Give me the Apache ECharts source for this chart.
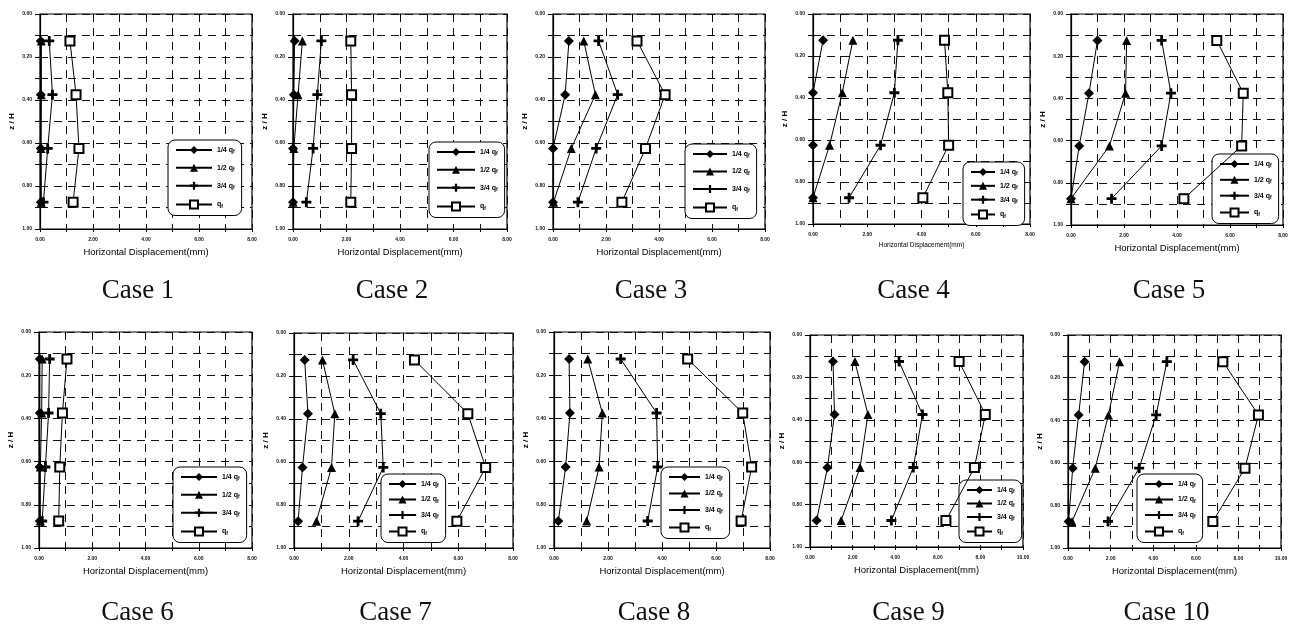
<!DOCTYPE html>
<html><head><meta charset="utf-8">
<script src="https://cdn.jsdelivr.net/npm/echarts@6/dist/echarts.min.js"></script>
<style>html,body{margin:0;padding:0;background:#fff}#c{width:1293px;height:626px}</style>
</head><body><div id="c"></div>
<script>
// ---------------- DATA ----------------
const caseNames = ['Case 1','Case 2','Case 3','Case 4','Case 5','Case 6','Case 7','Case 8','Case 9','Case 10'];
const seriesNames = ['1/4 qf','1/2 qf','3/4 qf','qf'];
const zLevels = [0.125, 0.375, 0.625, 0.875];          // z / H of the four gauges
const xMaxByCase = [8,8,8,8,8,8,8,8,10,10];
const yTickLabels = ['0.00','0.20','0.40','0.60','0.80','1.00'];
// horizontal displacement (mm) per case, top-to-bottom gauge
const q14Values = [
  [0.03,0.03,0.03,0.03],[0.06,0.03,0.00,0.00],[0.60,0.46,0.00,0.00],[0.37,0.00,0.00,0.00],[1.00,0.68,0.31,0.00],
  [0.03,0.03,0.02,0.03],[0.39,0.51,0.31,0.15],[0.56,0.59,0.43,0.16],[1.08,1.15,0.82,0.31],[0.78,0.50,0.22,0.03]
];
const q12Values = [
  [0.05,0.05,0.04,0.05],[0.35,0.19,0.03,0.00],[1.16,1.60,0.69,0.02],[1.47,1.08,0.61,0.00],[2.10,2.06,1.45,0.00],
  [0.12,0.10,0.05,0.05],[1.04,1.49,1.37,0.82],[1.25,1.79,1.67,1.21],[2.11,2.72,2.35,1.46],[2.42,1.90,1.28,0.19]
];
const q34Values = [
  [0.35,0.47,0.29,0.13],[1.06,0.91,0.75,0.50],[1.72,2.44,1.63,0.94],[3.13,3.00,2.49,1.33],[3.42,3.77,3.42,1.53],
  [0.40,0.36,0.24,0.12],[2.16,3.17,3.26,2.34],[2.47,3.80,3.84,3.47],[4.18,5.28,4.85,3.82],[4.64,4.14,3.34,1.88]
];
const qfValues = [
  [1.13,1.36,1.47,1.25],[2.16,2.19,2.19,2.16],[3.17,4.23,3.49,2.60],[4.85,4.97,5.00,4.05],[5.50,6.50,6.44,4.26],
  [1.05,0.88,0.78,0.74],[4.40,6.35,7.00,5.95],[4.95,6.99,7.32,6.93],[7.00,8.23,7.72,6.38],[7.27,8.94,8.31,6.80]
];
const allValues = [q14Values, q12Values, q34Values, qfValues];

// ---------------- LAYOUT ----------------
const gridBoxes = [
  [40,14,212,215],[293,14,214,215],[553,14,212,215],[813,14,217,210],[1071,14,212,211],
  [39,332,213,216],[294,333,219,215],[554,332,216,216],[810,335,213,212],[1068,335,213,213]
];
const legendBoxes = [
  [168,140,77,80],[429,142,79,80],[685,144,75,79],[963,162,65,68],[1212,154,70,74],
  [173,467,77,80],[381,474,68,73],[661,467,72,76],[959,480,66,67],[1137,474,69,73]
];
const caseLabelY = [291,291,291,291,291,613,613,613,613,613];

const plusPath = 'path://M3.6,0H6.4V3.6H10V6.4H6.4V10H3.6V6.4H0V3.6H3.6Z';
const symbolStyles = [
  {symbol:'diamond', symbolSize:10, itemStyle:{color:'#000'}},
  {symbol:'triangle', symbolSize:9, itemStyle:{color:'#000'}},
  {symbol:plusPath, symbolSize:10, itemStyle:{color:'#000'}},
  {symbol:'rect', symbolSize:9, itemStyle:{color:'#fff', borderColor:'#000', borderWidth:2}}
];

const grid = [], xAxis = [], yAxis = [], series = [], legend = [], graphic = [];
const tickFont = {fontSize:5, fontWeight:'bold', color:'#111', fontFamily:'Liberation Sans'};
const dash = {color:'#111', width:1, type:[8,6]};

gridBoxes.forEach((b, i) => {
  grid.push({left:b[0], top:b[1], width:b[2], height:b[3], show:true, borderColor:'#000', borderWidth:1.2, backgroundColor:'transparent'});
  const xm = xMaxByCase[i];
  xAxis.push({
    type:'value', gridIndex:i, min:0, max:xm, interval:1, position:'bottom',
    name:'Horizontal Displacement(mm)', nameLocation:'middle', nameGap:18,
    nameTextStyle:{fontSize: i===3 ? 6.5 : 9.5, color:'#000', fontFamily:'Liberation Sans'},
    axisLine:{onZero:false, lineStyle:{color:'#000', width:1.2}},
    axisTick:{show:true, inside:false, length:3, lineStyle:{color:'#000'}},
    axisLabel:{...tickFont, margin:8, formatter: v => (Math.round(v) % 2 === 0 ? v.toFixed(2) : '')},
    splitLine:{show:true, lineStyle:dash}
  });
  xAxis.push({
    type:'value', gridIndex:i, min:0, max:xm, interval:1, position:'top',
    axisLine:{show:false}, axisTick:{show:true, inside:true, length:4, lineStyle:{color:'#000'}},
    axisLabel:{show:false}, splitLine:{show:false}
  });
  yAxis.push({
    type:'value', gridIndex:i, min:0, max:1, interval:0.1, inverse:true,
    name:'z / H', nameLocation:'middle', nameGap:24,
    nameTextStyle:{fontSize:8, fontWeight:'bold', color:'#000', fontFamily:'Liberation Sans'},
    axisLine:{onZero:false, lineStyle:{color:'#000', width:1.2}},
    axisTick:{show:true, inside:false, length:5, lineStyle:{color:'#000'}},
    axisLabel:{...tickFont, margin:8, formatter: v => {
      const k = Math.round(v*10); return k % 2 === 0 ? yTickLabels[k/2] : ''; }},
    splitLine:{show:true, lineStyle:dash}
  });
  allValues.forEach((vals, s) => {
    series.push({
      type:'line', name:seriesNames[s], xAxisIndex:2*i, yAxisIndex:i,
      data: zLevels.map((z, k) => [vals[i][k], z]),
      ...symbolStyles[s], showSymbol:true,
      lineStyle:{color:'#000', width:1}, z:3+s, animation:false, silent:true
    });
  });
  const L = legendBoxes[i];
  const padV = 6, padH = 7, ih = 10;
  const gap = (L[3] - 2*padV - 4*ih) / 3;
  const iw = L[2] - 2*padH - 5 - 22;
  legend.push({
    left:L[0], top:L[1], orient:'vertical', padding:[padV,padH,padV,padH],
    itemGap:gap, itemWidth:iw, itemHeight:ih, data:seriesNames, selectedMode:false,
    backgroundColor:'#fff', borderColor:'#000', borderWidth:1, borderRadius:7,
    textStyle:{fontSize:7, fontWeight:'bold', color:'#000', fontFamily:'Liberation Sans',
      rich:{s:{fontSize:5, fontWeight:'bold', color:'#000', padding:[4,0,0,0], fontFamily:'Liberation Sans'}}},
    formatter: n => n.replace('qf', 'q{s|f}')
  });
  graphic.push({
    type:'text', x: b[0] + b[2]/2 - 8, y: caseLabelY[i],
    style:{text:caseNames[i], font:'27px "Liberation Serif"', fill:'#111',
      align:'center', verticalAlign:'middle', textAlign:'center', textVerticalAlign:'middle'}
  });
});

const chart = echarts.init(document.getElementById('c'), null, {renderer:'canvas'});
chart.setOption({animation:false, backgroundColor:'#fff', grid, xAxis, yAxis, series, legend, graphic});
</script></body></html>
